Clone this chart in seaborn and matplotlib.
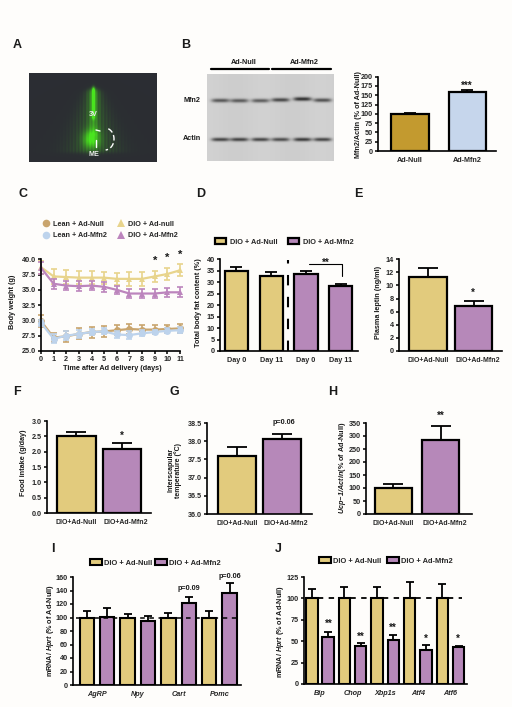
import numpy as np
import pandas as pd
import matplotlib
matplotlib.use("Agg")
import matplotlib.pyplot as plt
from matplotlib.transforms import ScaledTranslation
import seaborn as sns

sns.set_theme(style="ticks")
plt.rcParams["font.family"] = ["Liberation Sans", "DejaVu Sans"]
plt.rcParams["font.weight"] = "bold"
plt.rcParams["axes.labelweight"] = "bold"
plt.rcParams["mathtext.fontset"] = "custom"
plt.rcParams["mathtext.bfit"] = "Liberation Sans:italic:bold"
plt.rcParams["mathtext.bf"] = "Liberation Sans:bold"

W, H = 512, 707
KUM = "#E2CB7D"
MOR = "#B688B9"
ALTIN = "#C39A2F"
ACIK = "#C6D6EC"
ARKA = "#FEFDFB"
YAZI = 5.2

# --- veriler ---
b_labels = ["Ad-Null", "Ad-Mfn2"]
b_vals = [100, 160]
b_errs = [2, 3]

gunler = list(range(12))
lean_null = [29.9, 27.2, 27.4, 27.8, 28.1, 28.2, 28.4, 28.6, 28.5, 28.5, 28.6, 28.7]
lean_null_err = [1.0, 0.8, 0.9, 0.9, 0.9, 0.9, 0.8, 0.8, 0.7, 0.7, 0.7, 0.7]
lean_mfn2 = [29.6, 27.0, 27.5, 27.8, 28.1, 28.2, 27.7, 27.6, 27.9, 28.1, 28.3, 28.4]
lean_mfn2_err = [0.5, 0.7, 0.7, 0.6, 0.5, 0.5, 0.5, 0.6, 0.5, 0.4, 0.4, 0.5]
dio_null = [38.7, 37.2, 37.1, 37.0, 37.0, 37.0, 36.8, 36.8, 36.8, 37.2, 37.6, 38.2]
dio_null_err = [1.1, 1.2, 1.1, 1.1, 1.1, 1.0, 1.0, 1.1, 1.1, 0.9, 1.0, 1.0]
dio_mfn2 = [38.6, 36.0, 35.7, 35.6, 35.7, 35.5, 35.0, 34.4, 34.4, 34.4, 34.6, 34.6]
dio_mfn2_err = [1.0, 0.8, 0.8, 0.8, 0.8, 0.8, 0.7, 0.7, 0.7, 0.7, 0.7, 0.8]

d_slots = [0, 1, 2, 3]
d_labels = ["Day 0", "Day 11", "Day 0", "Day 11"]
d_groups = ["DIO + Ad-Null", "DIO + Ad-Null", "DIO + Ad-Mfn2", "DIO + Ad-Mfn2"]
d_vals = [35, 32.8, 33.6, 28.3]
d_errs = [1.5, 1.5, 1.3, 0.8]

grup_labels = ["DIO+Ad-Null", "DIO+Ad-Mfn2"]
e_vals = [11.3, 6.8]
e_errs = [1.3, 0.8]
f_vals = [2.52, 2.08]
f_errs = [0.13, 0.2]
g_vals = [37.58, 38.07]
g_errs = [0.25, 0.13]
h_vals = [100, 283]
h_errs = [17, 57]

i_genes = ["AgRP", "Npy", "Cart", "Pomc"]
i_null = [100, 100, 100, 100]
i_null_err = [9, 5, 6, 10]
i_mfn2 = [101, 95, 121, 136]
i_mfn2_err = [13, 7, 10, 15]

j_genes = ["Bip", "Chop", "Xbp1s", "Atf4", "Atf6"]
j_null = [100, 100, 100, 100, 100]
j_null_err = [11, 13, 13, 19, 17]
j_mfn2 = [55, 44, 51, 40, 43]
j_mfn2_err = [6, 3.5, 6, 5.5, 1.5]

# blot: her seritteki bant koyulugu
mfn2_bant = [0.75, 0.72, 0.72, 0.85, 1.0, 0.8]
actin_bant = [0.8, 0.8, 0.8, 0.75, 0.85, 0.8]
serit_x = [220, 239, 260, 280, 302, 322]

fig = plt.figure(figsize=(W / 100, H / 100), facecolor=ARKA)


def kutu(x0, y0, x1, y1):
    ax = fig.add_axes([x0 / W, 1 - y1 / H, (x1 - x0) / W, (y1 - y0) / H])
    ax.set_facecolor("none")
    return ax


def yaz(x, y, s, size=YAZI, **kw):
    fig.text(x / W, 1 - y / H, s, ha=kw.pop("ha", "center"), va=kw.pop("va", "center"),
             fontsize=size, color=kw.pop("color", "#1a1a1a"), **kw)


def duzelt(ax, xlim, ylim, yticks, fmt=None):
    ax.set_xlim(xlim)
    ax.set_ylim(ylim)
    ax.set_yticks(yticks)
    if fmt:
        ax.set_yticklabels([fmt % t for t in yticks])
    sns.despine(ax=ax)
    for s in ["left", "bottom"]:
        ax.spines[s].set_linewidth(1.2)
        ax.spines[s].set_color("black")
    ax.tick_params(axis="y", length=2.2, width=1.1, pad=1.5, labelsize=YAZI, color="black")
    ax.tick_params(axis="x", length=0, pad=4.5, labelsize=YAZI)
    ax.set_xlabel("")
    ax.set_ylabel("")


def cubuk(ax, labels, vals, errs, colors, w, xlim, ylim, yticks, cap=5, fmt=None):
    sns.barplot(x=labels, y=vals, hue=labels, palette=colors, width=w, saturation=1,
                edgecolor="black", linewidth=1.6, legend=False, ax=ax)
    ax.errorbar(range(len(vals)), vals, yerr=[np.zeros(len(vals)), errs], fmt="none",
                ecolor="black", elinewidth=1.3, capsize=cap, capthick=1.3, zorder=1)
    duzelt(ax, xlim, ylim, yticks, fmt)


def etiket_ayir(ax):
    # iki etiket birbirine degiyor, orijinalde de ikincisi biraz saga kayik
    ax.tick_params(axis="x", labelsize=5)
    t = ax.get_xticklabels()[1]
    t.set_transform(t.get_transform() + ScaledTranslation(4 / 100, 0, fig.dpi_scale_trans))


def ciftli(ax, genes, null, null_err, mfn2, mfn2_err, xlim, ylim, yticks, cap):
    df = pd.DataFrame({"gen": genes * 2,
                       "deger": null + mfn2,
                       "grup": ["DIO + Ad-Null"] * len(genes) + ["DIO + Ad-Mfn2"] * len(genes)})
    sns.barplot(data=df, x="gen", y="deger", hue="grup", palette=[KUM, MOR], width=1, gap=0.3,
                saturation=1, edgecolor="black", linewidth=1.5, ax=ax)
    x = np.arange(len(genes))
    ax.errorbar(x - 0.25, null, yerr=[np.zeros(len(genes)), null_err], fmt="none",
                ecolor="black", elinewidth=1.3, capsize=cap, capthick=1.3, zorder=1)
    ax.errorbar(x + 0.25, mfn2, yerr=[np.zeros(len(genes)), mfn2_err], fmt="none",
                ecolor="black", elinewidth=1.3, capsize=cap, capthick=1.3, zorder=1)
    duzelt(ax, xlim, ylim, yticks)
    for t in ax.get_xticklabels():
        t.set_fontstyle("italic")


# ---- A: mikroskop ----
ax = kutu(29, 73, 157, 162)
yy, xx = np.mgrid[73:162, 29:157]


def kap(a, b):
    return 0.5 * (np.tanh((yy - a) / 2.0) - np.tanh((yy - b) / 2.0))


yelpaze = 5 + (yy - 80) * 0.28
isinli = 0.75 + 0.25 * np.cos((xx - 93) * 1.9)
parlak = (np.exp(-((xx - 93) / 1.6) ** 2) * kap(87, 118)
          + 0.35 * np.exp(-((xx - 93) / 5.0) ** 2) * kap(88, 135)
          + 0.85 * np.exp(-((xx - 91) / 8.0) ** 2 - ((yy - 139) / 9.0) ** 2)
          + 0.28 * isinli * np.exp(-((xx - 93) / yelpaze) ** 2) * kap(90, 152))
parlak = np.clip(parlak, 0, 1)
resim = np.zeros(parlak.shape + (3,))
resim[..., 0] = 0.17 + 0.12 * parlak
resim[..., 1] = 0.18 + 0.72 * parlak
resim[..., 2] = 0.20 - 0.08 * parlak
ax.imshow(resim, aspect="auto", extent=(29, 157, 162, 73))
ax.axis("off")
t = np.linspace(-1.2, 1.5, 30)
ax.plot(105 + 9 * np.cos(t), 139 + 11 * np.sin(t), color="white", lw=1, ls=(0, (4, 2)))
ax.plot([96, 100], [130, 131], color="white", lw=1)
ax.plot([96, 96], [140, 147], color="white", lw=1)
ax.set_xlim(29, 157)
ax.set_ylim(162, 73)
yaz(93, 115, "3V", color="#e8e8e8")
yaz(94, 155, "ME", color="#f0f0f0")

# ---- B: blot ----
ax = kutu(207, 74, 334, 161)
yy, xx = np.mgrid[74:161, 207:334]
blot = np.full(xx.shape, 0.81) + 0.008 * np.cos((xx - 207) / 9.0)
for cx, m, a in zip(serit_x, mfn2_bant, actin_bant):
    blot -= 0.60 * m * np.exp(-((xx - cx) / 9.0) ** 4 - ((yy - (100 - (m - 0.75) * 6)) / 2.0) ** 2)
    blot -= 0.65 * a * np.exp(-((xx - cx) / 9.0) ** 4 - ((yy - 139) / 1.9) ** 2)
sns.heatmap(blot, cmap="gray", vmin=0, vmax=1, cbar=False, xticklabels=False, yticklabels=False, ax=ax)
ax.set_xlabel("")

fig.add_artist(plt.Line2D([211 / W, 269 / W], [1 - 68.7 / H] * 2, color="black", lw=1.6))
fig.add_artist(plt.Line2D([272 / W, 331 / W], [1 - 68.7 / H] * 2, color="black", lw=1.6))
yaz(244, 62, "Ad-Null")
yaz(304, 62, "Ad-Mfn2")
yaz(183, 100, "Mfn2", ha="left")
yaz(183, 139, "Actin", ha="left")

ax = kutu(378, 76.7, 496, 151)
cubuk(ax, b_labels, b_vals, b_errs, [ALTIN, ACIK], 0.66, (-0.557, 1.496), (0, 200),
      list(range(0, 201, 25)), cap=4)
yaz(358, 115, "Mfn2/Actin (% of Ad-Null)", rotation=90)
yaz(467, 86, "***", 7)

# ---- C: vucut agirligi ----
ax = kutu(41, 259.3, 180, 351)
seriler = [("Lean + Ad-Null", lean_null, lean_null_err, "#C9A56E", "o"),
           ("Lean + Ad-Mfn2", lean_mfn2, lean_mfn2_err, "#BDD3EC", "o"),
           ("DIO + Ad-null", dio_null, dio_null_err, "#E8D48C", "^"),
           ("DIO + Ad-Mfn2", dio_mfn2, dio_mfn2_err, "#BC85BD", "^")]
for ad, vals, errs, c, m in seriler:
    sns.lineplot(x=gunler, y=vals, color=c, marker=m, markersize=5, markeredgewidth=0,
                 lw=1.6, label=ad, ax=ax, clip_on=False)
    ax.errorbar(gunler, vals, yerr=errs, fmt="none", ecolor=c, elinewidth=1.2,
                capsize=2.5, capthick=1.2, clip_on=False)
duzelt(ax, (0, 11), (25, 40), [25, 27.5, 30, 32.5, 35, 37.5, 40], fmt="%.1f")
ax.set_xticks(gunler)
ax.tick_params(axis="x", length=2.2, width=1.1, pad=1.5, color="black")
leg = ax.legend(loc="center left", bbox_to_anchor=(41 / W, 1 - 230 / H), bbox_transform=fig.transFigure,
                ncol=2, frameon=False, fontsize=YAZI, handlelength=1.4, columnspacing=1.25,
                handletextpad=0.3, labelspacing=0.65, borderpad=0, borderaxespad=0, markerscale=1.1)
for h in leg.get_lines():
    h.set_linestyle("none")
for x, y in zip([9, 10, 11], [39.7, 40.3, 40.7]):
    ax.text(x, y, "*", ha="center", va="center", fontsize=8, clip_on=False, color="#1a1a1a")
yaz(13, 302, "Body weight (g)", rotation=90)
yaz(112, 369, "Time after Ad delivery (days)")

# ---- D: yag orani ----
ax = kutu(220, 259.3, 358, 351)
sns.barplot(x=d_slots, y=d_vals, hue=d_groups, dodge=False, palette=[KUM, MOR], width=0.67,
            saturation=1, edgecolor="black", linewidth=1.6, ax=ax)
ax.errorbar(d_slots, d_vals, yerr=[np.zeros(4), d_errs], fmt="none", ecolor="black",
            elinewidth=1.3, capsize=4.5, capthick=1.3, zorder=1)
duzelt(ax, (-0.475, 3.5), (0, 40), list(range(0, 41, 5)))
ax.set_xticks(d_slots)
ax.set_xticklabels(d_labels)
ax.axvline(1.49, color="black", lw=1.5, ls=(0, (5, 5.5)), ymax=0.99)
ax.plot([2.09, 3.04, 3.04], [37.8, 37.8, 32.6], color="black", lw=0.8)
ax.text(2.58, 38.6, "**", ha="center", va="center", fontsize=7, color="#1a1a1a")
sns.move_legend(ax, "center left", bbox_to_anchor=(215 / W, 1 - 242 / H),
                bbox_transform=fig.transFigure, ncol=2, frameon=False, title=None, fontsize=5.3,
                handlelength=1.5, handleheight=0.9, columnspacing=1.35, handletextpad=0.55,
                borderpad=0, borderaxespad=0)
yaz(198, 303, "Total body fat content (%)", rotation=90)

# ---- E ----
ax = kutu(399, 259.3, 502, 351)
cubuk(ax, grup_labels, e_vals, e_errs, [KUM, MOR], 0.83, (-0.637, 1.626), (0, 14),
      list(range(0, 15, 2)), cap=7)
etiket_ayir(ax)
yaz(378, 302, "Plasma leptin (ng/ml)", rotation=90)
yaz(473, 293, "*", 7)

# ---- F ----
ax = kutu(47, 421, 151, 513)
cubuk(ax, grup_labels, f_vals, f_errs, [KUM, MOR], 0.85, (-0.648, 1.637), (0, 3),
      [0, 0.5, 1, 1.5, 2, 2.5, 3], cap=7, fmt="%.1f")
etiket_ayir(ax)
yaz(24, 463, "Food intake (g/day)", rotation=90)
yaz(122, 436, "*", 7)

# ---- G ----
ax = kutu(207, 423, 312, 514)
cubuk(ax, grup_labels, g_vals, g_errs, [KUM, MOR], 0.85, (-0.667, 1.667), (36, 38.5),
      [36, 36.5, 37, 37.5, 38, 38.5], cap=7, fmt="%.1f")
etiket_ayir(ax)
yaz(175, 470, "Interscapular\ntemperature (°C)", size=5, rotation=90, linespacing=1.0)
yaz(284, 423, "p=0.06")

# ---- H ----
ax = kutu(366, 423, 472, 514)
cubuk(ax, grup_labels, h_vals, h_errs, [KUM, MOR], 0.79, (-0.585, 1.67), (0, 350),
      list(range(0, 351, 50)), cap=7)
etiket_ayir(ax)
yaz(342, 468, r"$\mathbfit{Ucp\!-\!1/Actin}$(% of Ad-Null)", rotation=90)
yaz(441, 416, "**", 7)

# ---- I ----
ax = kutu(73, 577, 241, 685)
ciftli(ax, i_genes, i_null, i_null_err, i_mfn2, i_mfn2_err, (-0.588, 3.53), (0, 160),
       list(range(0, 161, 20)), 3.2)
ax.axhline(100, color="black", lw=1.1, ls=(0, (3, 3)), xmin=0.02, xmax=0.99)
sns.move_legend(ax, "center left", bbox_to_anchor=(90 / W, 1 - 563 / H),
                bbox_transform=fig.transFigure, ncol=2, frameon=False, title=None, fontsize=5.4,
                handlelength=1.6, handleheight=0.9, columnspacing=0.3, handletextpad=0.3,
                borderpad=0, borderaxespad=0)
yaz(51, 631, r"mRNA/ $\mathbfit{Hprt}$ (% of Ad-Null)", rotation=90)
yaz(189, 589, "p=0.09")
yaz(230, 577, "p=0.06")

# ---- J ----
ax = kutu(304, 577, 467, 684)
ciftli(ax, j_genes, j_null, j_null_err, j_mfn2, j_mfn2_err, (-0.49, 4.51), (0, 125),
       [0, 25, 50, 75, 100, 125], 2.8)
ax.axhline(100, color="black", lw=1.3, ls=(0, (3, 3)), xmin=0.02, xmax=0.97)
sns.move_legend(ax, "center left", bbox_to_anchor=(319 / W, 1 - 561 / H),
                bbox_transform=fig.transFigure, ncol=2, frameon=False, title=None, fontsize=5.4,
                handlelength=1.6, handleheight=0.9, columnspacing=0.7, handletextpad=0.3,
                borderpad=0, borderaxespad=0)
yaz(281, 632, r"mRNA/ $\mathbfit{Hprt}$ (% of Ad-Null)", rotation=90)
for x, y, s in zip([328.5, 361, 393, 426, 458], [624, 637, 628, 639, 639], ["**", "**", "**", "*", "*"]):
    yaz(x, y, s, 7)

# ---- panel harfleri ----
harfler = [("A", 17, 45), ("B", 186, 45), ("C", 23, 194), ("D", 201, 194), ("E", 358, 194),
           ("F", 17, 392), ("G", 174, 392), ("H", 333, 392), ("I", 53, 549), ("J", 278, 549)]
for h, x, y in harfler:
    yaz(x, y, h, 9)

fig.savefig("out.png", dpi=100, facecolor=ARKA)
